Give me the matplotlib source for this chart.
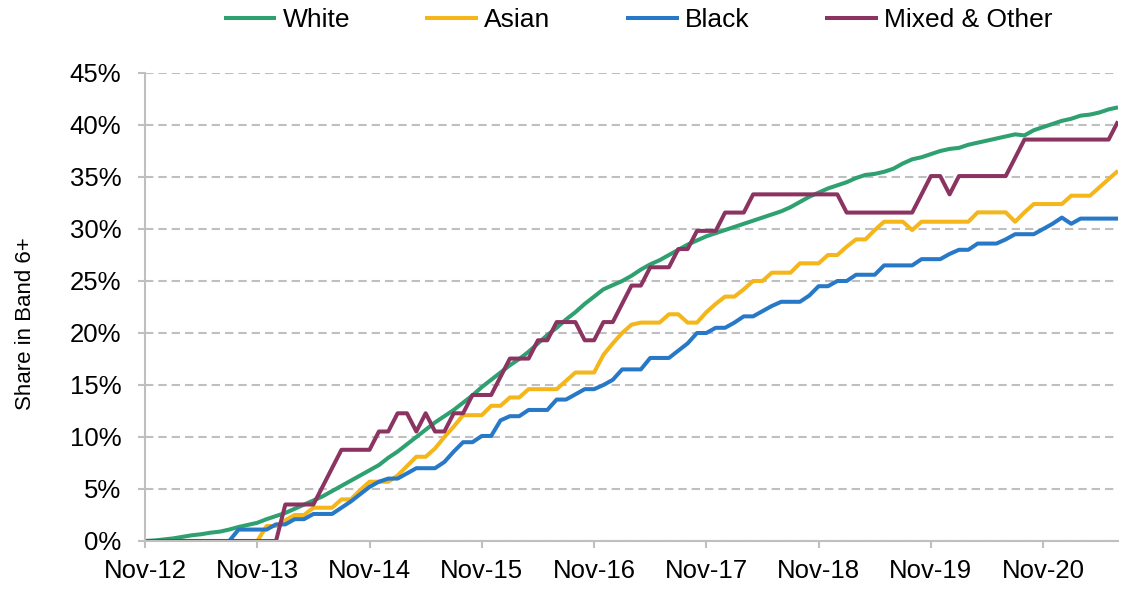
import numpy as np
import matplotlib
matplotlib.use("Agg")
import matplotlib.pyplot as plt

plt.rcParams['font.family'] = ['Liberation Sans', 'DejaVu Sans']

xtick_labels = ['Nov-12', 'Nov-13', 'Nov-14', 'Nov-15', 'Nov-16',
                'Nov-17', 'Nov-18', 'Nov-19', 'Nov-20']

white = [0.0, 0.05, 0.15, 0.25, 0.4, 0.55, 0.65, 0.8, 0.9, 1.1,
         1.35, 1.55, 1.75, 2.1, 2.4, 2.7, 3.1, 3.5, 3.9, 4.3,
         4.8, 5.3, 5.8, 6.3, 6.8, 7.3, 8.0, 8.6, 9.3, 10.0,
         10.7, 11.4, 12.0, 12.6, 13.3, 14.0, 14.8, 15.5, 16.2, 16.9,
         17.5, 18.2, 19.0, 19.8, 20.5, 21.3, 22.0, 22.8, 23.5, 24.2,
         24.6, 25.0, 25.5, 26.1, 26.6, 27.0, 27.5, 28.0, 28.5, 28.9,
         29.3, 29.6, 29.9, 30.2, 30.5, 30.8, 31.1, 31.4, 31.7, 32.1,
         32.6, 33.1, 33.5, 33.9, 34.2, 34.5, 34.9, 35.2, 35.3, 35.5,
         35.8, 36.3, 36.7, 36.9, 37.2, 37.5, 37.7, 37.8, 38.1, 38.3,
         38.5, 38.7, 38.9, 39.1, 39.0, 39.5, 39.8, 40.1, 40.4, 40.6,
         40.9, 41.0, 41.2, 41.5, 41.7]

asian = [0, 0, 0, 0, 0, 0, 0, 0, 0, 0,
         0, 0, 0, 1.44, 1.44, 2.0, 2.5, 2.5, 3.2, 3.2,
         3.2, 4.0, 4.0, 4.9, 5.7, 5.7, 5.7, 6.3, 7.2, 8.1,
         8.1, 8.9, 10.0, 11.0, 12.1, 12.1, 12.1, 13.0, 13.0, 13.8,
         13.8, 14.6, 14.6, 14.6, 14.6, 15.4, 16.2, 16.2, 16.2, 17.9,
         19.0, 20.0, 20.8, 21.0, 21.0, 21.0, 21.8, 21.8, 21.0, 21.0,
         22.0, 22.8, 23.5, 23.5, 24.2, 25.0, 25.0, 25.8, 25.8, 25.8,
         26.7, 26.7, 26.7, 27.5, 27.5, 28.3, 29.0, 29.0, 29.9, 30.7,
         30.7, 30.7, 29.9, 30.7, 30.7, 30.7, 30.7, 30.7, 30.7, 31.6,
         31.6, 31.6, 31.6, 30.7, 31.6, 32.4, 32.4, 32.4, 32.4, 33.2,
         33.2, 33.2, 34.0, 34.8, 35.6]

black = [0, 0, 0, 0, 0, 0, 0, 0, 0, 0,
         1.1, 1.1, 1.1, 1.1, 1.6, 1.6, 2.1, 2.1, 2.6, 2.6,
         2.6, 3.2, 3.8, 4.5, 5.2, 5.7, 6.0, 6.0, 6.5, 7.0,
         7.0, 7.0, 7.6, 8.6, 9.5, 9.5, 10.1, 10.1, 11.6, 12.0,
         12.0, 12.6, 12.6, 12.6, 13.6, 13.6, 14.1, 14.6, 14.6, 15.0,
         15.5, 16.5, 16.5, 16.5, 17.6, 17.6, 17.6, 18.3, 19.0, 20.0,
         20.0, 20.5, 20.5, 21.0, 21.6, 21.6, 22.1, 22.6, 23.0, 23.0,
         23.0, 23.6, 24.5, 24.5, 25.0, 25.0, 25.6, 25.6, 25.6, 26.5,
         26.5, 26.5, 26.5, 27.1, 27.1, 27.1, 27.6, 28.0, 28.0, 28.6,
         28.6, 28.6, 29.0, 29.5, 29.5, 29.5, 30.0, 30.5, 31.1, 30.5,
         31.0, 31.0, 31.0, 31.0, 31.0]

mixed = [0, 0, 0, 0, 0, 0, 0, 0, 0, 0,
         0, 0, 0, 0, 0, 3.51, 3.51, 3.51, 3.51, 5.26,
         7.02, 8.77, 8.77, 8.77, 8.77, 10.53, 10.53, 12.28, 12.28, 10.53,
         12.28, 10.53, 10.53, 12.28, 12.28, 14.04, 14.04, 14.04, 15.79, 17.54,
         17.54, 17.54, 19.30, 19.30, 21.05, 21.05, 21.05, 19.30, 19.30, 21.05,
         21.05, 22.81, 24.56, 24.56, 26.32, 26.32, 26.32, 28.07, 28.07, 29.82,
         29.82, 29.82, 31.58, 31.58, 31.58, 33.33, 33.33, 33.33, 33.33, 33.33,
         33.33, 33.33, 33.33, 33.33, 33.33, 31.58, 31.58, 31.58, 31.58, 31.58,
         31.58, 31.58, 31.58, 33.33, 35.09, 35.09, 33.33, 35.09, 35.09, 35.09,
         35.09, 35.09, 35.09, 36.84, 38.60, 38.60, 38.60, 38.60, 38.60, 38.60,
         38.60, 38.60, 38.60, 38.60, 40.35]

series = [('White', white, '#2FA070'),
          ('Asian', asian, '#F4B61A'),
          ('Black', black, '#2878C8'),
          ('Mixed & Other', mixed, '#8B3462')]

W, H = 1121, 592
fig = plt.figure(figsize=(W / 100, H / 100), dpi=100)
ax = fig.add_axes([145 / W, 1 - 541 / H, (1118 - 145) / W, (541 - 73) / H])

x = np.arange(len(white))
for name, vals, col in series:
    ax.plot(x, vals, color=col, lw=2.9, label=name, solid_joinstyle='round',
            solid_capstyle='butt')

ax.set_xlim(0, len(white) - 1)
ax.set_ylim(0, 45)
ax.set_yticks(np.arange(0, 46, 5))
ax.set_yticklabels([f'{v}%' for v in range(0, 46, 5)])
ax.set_xticks(np.arange(0, 12 * len(xtick_labels), 12))
ax.set_xticklabels(xtick_labels)

grid_col = '#BFBFBF'
ax.yaxis.grid(True, color=grid_col, lw=1.5, linestyle=(0, (4, 2.4)))
ax.set_axisbelow(True)
for s in ['top', 'right']:
    ax.spines[s].set_visible(False)
for s in ['left', 'bottom']:
    ax.spines[s].set_color(grid_col)
    ax.spines[s].set_linewidth(1.5)

ax.tick_params(axis='x', length=5, width=1.5, color=grid_col, pad=8,
               labelsize=18.5)
ax.tick_params(axis='y', length=5, width=1.5, color=grid_col, pad=12,
               labelsize=18.5)
ax.set_ylabel('Share in Band 6+', fontsize=16)
ax.yaxis.set_label_coords((36 - 145) / 973, (541 - 324) / 468)

fig.legend(loc='center', bbox_to_anchor=(638 / W, 1 - 20 / H), ncol=4,
           frameon=False, fontsize=19, handlelength=2.0, handletextpad=0.23,
           columnspacing=2.86, borderpad=0, borderaxespad=0)

fig.savefig('out.png', dpi=100)
